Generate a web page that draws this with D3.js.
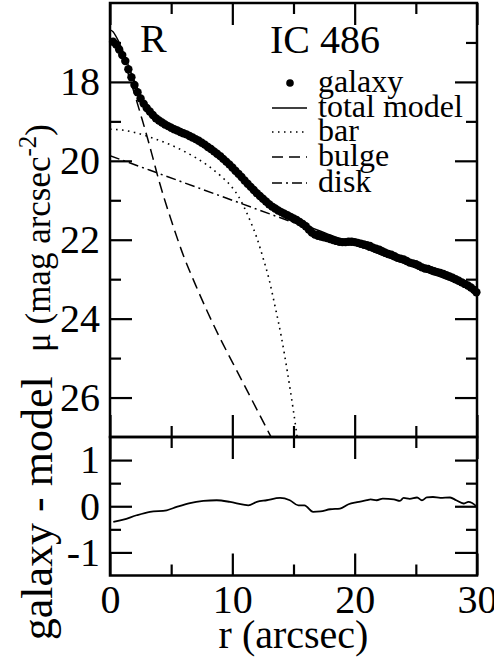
<!DOCTYPE html>
<html>
<head>
<meta charset="utf-8">
<script src="https://cdn.jsdelivr.net/npm/d3@7"></script>
<style>
  body { margin: 0; background: #fff; }
</style>
</head>
<body>
<div id="chart"></div>
<script>
// galaxy profile (r in arcsec, mu in mag/arcsec^2)
var galaxyR = [0.25,0.5,0.75,1,1.25,1.5,1.75,2,2.25,2.5,2.75,3,3.25,3.5,3.75,4,4.25,4.5,4.75,5,
  5.25,5.5,5.75,6,6.25,6.5,6.75,7,7.25,7.5,7.75,8,8.25,8.5,8.75,9,9.25,9.5,9.75,10,
  10.25,10.5,10.75,11,11.25,11.5,11.75,12,12.25,12.5,12.75,13,13.25,13.5,13.75,14,14.25,14.5,14.75,15,
  15.25,15.5,15.75,16,16.25,16.5,16.75,17,17.25,17.5,17.75,18,18.25,18.5,18.75,19,19.25,19.5,19.75,20,
  20.25,20.5,20.75,21,21.25,21.5,21.75,22,22.25,22.5,22.75,23,23.25,23.5,23.75,24,24.25,24.5,24.75,25,
  25.25,25.5,25.75,26,26.25,26.5,26.75,27,27.25,27.5,27.75,28,28.25,28.5,28.75,29,29.25,29.5,29.75,29.95];
var galaxyMu = [16.98,17.05,17.18,17.32,17.47,17.68,17.88,18.08,18.26,18.42,18.55,18.66,18.75,18.84,18.92,18.98,19.03,19.08,19.12,19.16,
  19.2,19.23,19.27,19.3,19.33,19.37,19.41,19.45,19.49,19.54,19.59,19.65,19.7,19.76,19.82,19.88,19.95,20.02,20.09,20.17,
  20.25,20.33,20.41,20.5,20.58,20.66,20.74,20.82,20.89,20.96,21.03,21.1,21.16,21.21,21.26,21.3,21.34,21.38,21.42,21.46,
  21.5,21.55,21.6,21.66,21.74,21.82,21.87,21.9,21.92,21.94,21.96,21.98,22.01,22.03,22.05,22.06,22.06,22.05,22.05,22.06,
  22.08,22.1,22.12,22.14,22.16,22.2,22.23,22.25,22.29,22.33,22.36,22.38,22.42,22.46,22.48,22.5,22.54,22.58,22.6,22.62,
  22.66,22.7,22.73,22.74,22.77,22.8,22.82,22.84,22.87,22.9,22.93,22.96,23.0,23.04,23.08,23.12,23.16,23.21,23.27,23.33];

// model components
var totalR  = [0,0.25,0.5,0.75,1,1.5,2,2.5,3,3.5,4,4.5,5,6,7,8,9,10,11,12,13,14,15,16,17,18,19,20,21,22,23,24,25,26,27,28,29,30];
var totalMu = [16.68,16.73,16.85,17.0,17.18,17.58,17.98,18.33,18.6,18.8,18.96,19.08,19.17,19.32,19.48,19.68,19.93,20.22,20.55,20.88,21.15,21.35,21.5,21.63,21.76,21.88,22.0,22.12,22.24,22.36,22.48,22.59,22.71,22.83,22.94,23.06,23.18,23.3];
var barR  = [0,1,2,3,4,5,6,7,8,9,10,10.5,11,11.5,12,12.5,13,13.5,14,14.5,15,15.5];
var barMu = [19.2,19.22,19.28,19.37,19.48,19.6,19.75,19.92,20.12,20.37,20.68,20.9,21.2,21.55,21.95,22.45,23.0,23.7,24.45,25.35,26.35,27.45];
var bulgeR  = [0,0.5,1,1.5,2,2.5,3,3.5,4,4.5,5,6,7,8,9,10,11,12,13,14];
var bulgeMu = [16.9,17.05,17.35,17.8,18.3,18.82,19.35,19.92,20.5,21.02,21.5,22.4,23.15,23.85,24.5,25.1,25.7,26.3,26.9,27.5];
var diskR  = [0,10,20,30];
var diskMu = [19.87,21.0,22.13,23.26];

// residuals galaxy - model
var resR = [0.27,1.09,2.18,3.27,4.63,5.45,6.54,7.63,8.72,9.81,10.9,11.3,12,12.8,13.9,14.7,15.4,15.9,16.6,17.2,18,18.8,19.5,20.2,21,21.3,21.8,22.3,23.2,23.7,24,24.5,25.1,25.5,25.9,26.4,27,27.8,28.3,28.9,29.3,29.6,30];
var resV = [-0.34,-0.29,-0.195,-0.12,-0.087,-0.014,0.07,0.115,0.13,0.094,0.036,0.02,0.094,0.13,0.18,0.13,0.02,0.02,-0.12,-0.11,-0.065,-0.05,0.043,0.087,0.13,0.15,0.13,0.166,0.15,0.115,0.18,0.16,0.19,0.13,0.19,0.2,0.18,0.19,0.13,0.06,0.094,0.07,-0.014];

var xMajor = [0,10,20,30], xMinor = [5,15,25];
var muMajor = [18,20,22,24,26], muMinor = [17,19,21,23,25];
var resMajor = [-1,0,1], resMinor = [-0.5,0.5];

var legendLabels = ["galaxy","total model","bar","bulge","disk"];

var svgWidth = 494, svgHeight = 662;
var padL = 110, padR = 477, padT = 3, padMid = 437, padB = 575.5;
var serif = "'Liberation Serif', Tinos, 'Times New Roman', Times, 'Nimbus Roman', 'Noto Serif', 'DejaVu Serif', FreeSerif, serif";

var svg = d3.select("#chart").append("svg")
  .attr("width", svgWidth)
  .attr("height", svgHeight)
  .style("font-family", serif);

var x = d3.scaleLinear().domain([0, 30]).range([padL, padR]);
var yMu = d3.scaleLinear().domain([16, 27]).range([padT, padMid]);
var yRes = d3.scaleLinear().domain([-1.5, 1.5]).range([padB, padMid]);

svg.append("clipPath").attr("id", "clipMain")
  .append("rect").attr("x", padL).attr("y", padT).attr("width", padR - padL).attr("height", padMid - padT);

var plot = svg.append("g").attr("clip-path", "url(#clipMain)");

function lineOf(rs, vs, yScale) {
  var pts = rs.map((r, i) => [r, vs[i]]);
  return d3.line().x(d => x(d[0])).y(d => yScale(d[1])).curve(d3.curveMonotoneX)(pts);
}

// components
plot.append("path").attr("d", lineOf(barR, barMu, yMu))
  .attr("fill", "none").attr("stroke", "#000").attr("stroke-width", 1.6)
  .attr("stroke-dasharray", "1.6,4.4");
plot.append("path").attr("d", lineOf(bulgeR, bulgeMu, yMu))
  .attr("fill", "none").attr("stroke", "#000").attr("stroke-width", 1.5)
  .attr("stroke-dasharray", "11,6");
plot.append("path").attr("d", lineOf(diskR, diskMu, yMu))
  .attr("fill", "none").attr("stroke", "#000").attr("stroke-width", 1.5)
  .attr("stroke-dasharray", "10,4,2,4");

// galaxy dots
svg.append("g").selectAll("circle")
  .data(galaxyR)
  .enter().append("circle")
  .attr("cx", d => x(d))
  .attr("cy", (d, i) => yMu(galaxyMu[i]))
  .attr("r", 4.2)
  .attr("fill", "#000");

plot.append("path").attr("d", lineOf(totalR, totalMu, yMu))
  .attr("fill", "none").attr("stroke", "#000").attr("stroke-width", 1.4);

// residual
svg.append("path").attr("d", lineOf(resR, resV, yRes))
  .attr("fill", "none").attr("stroke", "#000").attr("stroke-width", 1.8);

// axes with inward ticks
function drawAxis(axis, tx, ty, labels) {
  var g = svg.append("g").attr("transform", "translate(" + tx + "," + ty + ")").call(axis);
  g.attr("font-family", null).attr("font-size", null);
  g.selectAll("text").style("font-family", serif).style("font-size", "40px").attr("fill", "#000");
  g.select(".domain").remove();
  g.selectAll("line").attr("stroke", "#000").attr("stroke-width", 2.2);
  if (!labels) g.selectAll("text").remove();
  return g;
}
var fmt = d => d < 0 ? "-" + Math.abs(d) : String(d);

// main panel
drawAxis(d3.axisLeft(yMu).tickValues(muMajor).tickSize(-22).tickPadding(10).tickFormat(fmt), padL, 0, true);
drawAxis(d3.axisLeft(yMu).tickValues(muMinor).tickSize(-11), padL, 0, false);
drawAxis(d3.axisRight(yMu).tickValues(muMajor).tickSize(-22), padR, 0, false);
drawAxis(d3.axisRight(yMu).tickValues(muMinor).tickSize(-11), padR, 0, false);
drawAxis(d3.axisTop(x).tickValues(xMajor).tickSize(-22), 0, padT, false);
drawAxis(d3.axisTop(x).tickValues(xMinor).tickSize(-11), 0, padT, false);
drawAxis(d3.axisBottom(x).tickValues(xMajor).tickSize(-22), 0, padMid, false);
drawAxis(d3.axisBottom(x).tickValues(xMinor).tickSize(-11), 0, padMid, false);

// residual panel
drawAxis(d3.axisLeft(yRes).tickValues(resMajor).tickSize(-22).tickPadding(10).tickFormat(fmt), padL, 0, true);
drawAxis(d3.axisLeft(yRes).tickValues(resMinor).tickSize(-11), padL, 0, false);
drawAxis(d3.axisRight(yRes).tickValues(resMajor).tickSize(-22), padR, 0, false);
drawAxis(d3.axisRight(yRes).tickValues(resMinor).tickSize(-11), padR, 0, false);
drawAxis(d3.axisTop(x).tickValues(xMajor).tickSize(-22), 0, padMid, false);
drawAxis(d3.axisTop(x).tickValues(xMinor).tickSize(-11), 0, padMid, false);
drawAxis(d3.axisBottom(x).tickValues(xMajor).tickSize(-22).tickPadding(9).tickFormat(fmt), 0, padB, true);
drawAxis(d3.axisBottom(x).tickValues(xMinor).tickSize(-11), 0, padB, false);

// frames
svg.append("rect").attr("x", padL).attr("y", padT).attr("width", padR - padL).attr("height", padMid - padT)
  .attr("fill", "none").attr("stroke", "#000").attr("stroke-width", 2.5);
svg.append("rect").attr("x", padL).attr("y", padMid).attr("width", padR - padL).attr("height", padB - padMid)
  .attr("fill", "none").attr("stroke", "#000").attr("stroke-width", 2.5);

function label(sel, size) {
  return sel.style("font-family", serif).style("font-size", size + "px").attr("fill", "#000");
}

// axis titles
label(svg.append("text"), 40).attr("x", (padL + padR) / 2).attr("y", 648)
  .attr("text-anchor", "middle").text("r (arcsec)");

var yl = label(svg.append("text"), 35)
  .attr("transform", "translate(50,238) rotate(-90)")
  .attr("text-anchor", "middle");
yl.append("tspan").text("μ (mag arcsec");
yl.append("tspan").attr("dy", -14).style("font-size", "25px").text("-2");
yl.append("tspan").attr("dy", 14).text(")");

label(svg.append("text"), 44)
  .attr("transform", "translate(52," + (yRes(0) + 2) + ") rotate(-90)")
  .attr("text-anchor", "middle").text("galaxy - model");

// annotations
label(svg.append("text"), 40).attr("x", 140).attr("y", 52).text("R");
label(svg.append("text"), 40).attr("x", 270).attr("y", 53).text("IC 486");

// legend
var legY = [83, 108, 132, 157, 183];
var leg = svg.append("g");
legendLabels.forEach(function(lab, i) {
  label(leg.append("text"), 32).attr("x", 318).attr("y", legY[i] + 9).text(lab);
});
leg.append("circle").attr("cx", 290).attr("cy", legY[0]).attr("r", 3.8).attr("fill", "#000");
leg.append("line").attr("x1", 272).attr("x2", 307).attr("y1", legY[1]).attr("y2", legY[1])
  .attr("stroke", "#000").attr("stroke-width", 1.5);
leg.append("line").attr("x1", 272).attr("x2", 307).attr("y1", legY[2]).attr("y2", legY[2])
  .attr("stroke", "#000").attr("stroke-width", 1.5).attr("stroke-dasharray", "1.5,4.5");
leg.append("line").attr("x1", 272).attr("x2", 307).attr("y1", legY[3]).attr("y2", legY[3])
  .attr("stroke", "#000").attr("stroke-width", 1.5).attr("stroke-dasharray", "11,6");
leg.append("line").attr("x1", 272).attr("x2", 307).attr("y1", legY[4]).attr("y2", legY[4])
  .attr("stroke", "#000").attr("stroke-width", 1.5).attr("stroke-dasharray", "10,4,2,4");
</script>
</body>
</html>
